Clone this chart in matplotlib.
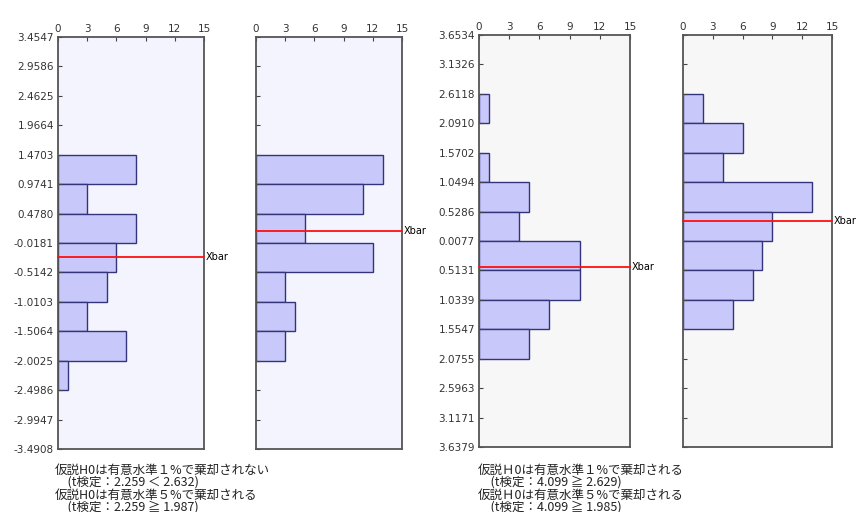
import numpy as np
import matplotlib.pyplot as plt

plt.rcParams['font.family'] = ['Noto Sans CJK JP', 'DejaVu Sans']

# bin edges (= y tick positions), top to bottom
left_edges = [3.4547, 2.9586, 2.4625, 1.9664, 1.4703, 0.9741, 0.4780, -0.0181,
              -0.5142, -1.0103, -1.5064, -2.0025, -2.4986, -2.9947, -3.4908]
left_labels = ['3.4547', '2.9586', '2.4625', '1.9664', '1.4703', '0.9741', '0.4780',
               '-0.0181', '-0.5142', '-1.0103', '-1.5064', '-2.0025', '-2.4986',
               '-2.9947', '-3.4908']
right_edges = [3.6534, 3.1326, 2.6118, 2.0910, 1.5702, 1.0494, 0.5286, 0.0077,
               -0.5131, -1.0339, -1.5547, -2.0755, -2.5963, -3.1171, -3.6379]
# labels as printed in the original (minus signs missing)
right_labels = ['3.6534', '3.1326', '2.6118', '2.0910', '1.5702', '1.0494', '0.5286',
                '0.0077', '0.5131', '1.0339', '1.5547', '2.0755', '2.5963',
                '3.1171', '3.6379']

# counts per bin, top to bottom
counts_1 = [0, 0, 0, 0, 8, 3, 8, 6, 5, 3, 7, 1, 0, 0]
counts_2 = [0, 0, 0, 0, 13, 11, 5, 12, 3, 4, 3, 0, 0, 0]
counts_3 = [0, 0, 1, 0, 1, 5, 4, 10, 10, 7, 5, 0, 0, 0]
counts_4 = [0, 0, 2, 6, 4, 13, 9, 8, 7, 5, 0, 0, 0, 0]

xbars = [-0.26, 0.19, -0.45, 0.37]
x_ticks = [0, 3, 6, 9, 12, 15]

left_text = ['仮説H0は有意水準１%で棄却されない',
             '　(t検定：2.259 ＜ 2.632)',
             '仮説H0は有意水準５%で棄却される',
             '　(t検定：2.259 ≧ 1.987)']
right_text = ['仮説Ｈ0は有意水準１%で棄却される',
              '　(t検定：4.099 ≧ 2.629)',
              '仮説Ｈ0は有意水準５%で棄却される',
              '　(t検定：4.099 ≧ 1.985)']

fig = plt.figure(figsize=(8.58, 5.12), dpi=100)

panels = [
    # rect, edges, labels, counts, xbar, background, show ylabels
    ([58/858, 1-449/512, 146/858, 412/512], left_edges, left_labels, counts_1, xbars[0], '#f4f4ff', True),
    ([256/858, 1-449/512, 146/858, 412/512], left_edges, left_labels, counts_2, xbars[1], '#f4f4ff', False),
    ([479/858, 1-447/512, 151/858, 412/512], right_edges, right_labels, counts_3, xbars[2], '#f7f7f7', True),
    ([683/858, 1-447/512, 149/858, 412/512], right_edges, right_labels, counts_4, xbars[3], '#f7f7f7', False),
]

for rect, edges, labels, counts, xb, bg, show_lab in panels:
    ax = fig.add_axes(rect)
    ax.set_facecolor(bg)
    edges = np.array(edges)
    heights = edges[:-1] - edges[1:]
    centers = (edges[:-1] + edges[1:]) / 2
    cnt = np.array(counts)
    m = cnt > 0
    ax.barh(centers[m], cnt[m], height=heights[m], left=0,
            color='#c8c8fa', edgecolor='#34347a', linewidth=1.0)
    ax.plot([0, 15], [xb, xb], color='#ff1010', lw=1.3, clip_on=False, zorder=5)
    ax.text(15.2, xb, 'Xbar', fontsize=7, va='center', ha='left',
            family='DejaVu Sans', clip_on=False)
    ax.set_xlim(0, 15)
    ax.set_ylim(edges[-1], edges[0])
    ax.xaxis.tick_top()
    ax.set_xticks(x_ticks)
    ax.set_xticklabels([str(t) for t in x_ticks], fontsize=7.5, family='DejaVu Sans')
    ax.set_yticks(edges)
    if show_lab:
        ax.set_yticklabels(labels, fontsize=7.5, family='DejaVu Sans')
    else:
        ax.set_yticklabels([])
    ax.tick_params(axis='x', direction='in', length=3, width=0.8, pad=2, colors='#444444',
                   labelcolor='#333333')
    ax.tick_params(axis='y', direction='in', length=3, width=0.8, pad=3, colors='#444444',
                   labelcolor='#333333')
    for s in ax.spines.values():
        s.set_color('#555555')
        s.set_linewidth(1.3)

ys_left = [470, 482.5, 495, 507]
ys_right = [470, 482.5, 495, 507]
for t, y in zip(left_text, ys_left):
    fig.text(55/858, 1 - y/512, t, fontsize=9, va='center', ha='left', color='#222222')
for t, y in zip(right_text, ys_right):
    fig.text(478/858, 1 - y/512, t, fontsize=9, va='center', ha='left', color='#222222')

fig.savefig('out.png', dpi=100)
